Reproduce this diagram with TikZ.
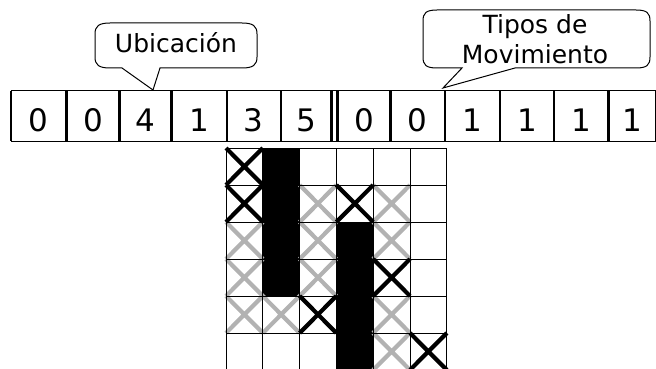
\documentclass[tikz,border=0pt]{standalone}
\usepackage{fontspec}
\setmainfont{DejaVu Sans}
\definecolor{xgray}{RGB}{178,178,178}
\tikzset{
  digit/.style={font=\fontsize{31}{36}\selectfont, anchor=base, inner sep=0pt},
  lbl/.style={font=\fontsize{25}{30}\selectfont, inner sep=0pt},
  sepline/.style={line width=2.6pt},
  frameline/.style={line width=1pt},
  bubble/.style={line width=1pt, fill=white},
  gridline/.style={line width=0.9pt},
  blackx/.style={line width=4.2pt, black},
  grayx/.style={line width=4.2pt, xgray},
}
\begin{document}
\begin{tikzpicture}[x=1pt,y=-1pt]
\useasboundingbox (0,0) rectangle (656,369);

% callouts
\draw[bubble] (122,68) -- (153,90) -- (160,68) -- (242,68)
  .. controls (253,68) and (257,65) .. (257,57) -- (257,34)
  .. controls (257,26) and (253,23) .. (242,23) -- (110,23)
  .. controls (99,23) and (95,26) .. (95,34) -- (95,57)
  .. controls (95,65) and (99,68) .. (110,68) -- cycle;
\node[lbl, anchor=base] (ubic) at (176,53) {Ubicación};

\draw[bubble] (462,68) -- (443,88) -- (515,68) -- (636,68)
  .. controls (647,68) and (650,65) .. (650,57) -- (650,21)
  .. controls (650,13) and (647,10) .. (636,10) -- (437,10)
  .. controls (426,10) and (423,13) .. (423,21) -- (423,57)
  .. controls (423,65) and (426,68) .. (437,68) -- cycle;
\node[lbl, align=center, anchor=north] (tipos) at (535,14) {Tipos de\\Movimiento};

% strip of digits
\draw[frameline] (11,90.5) -- (656,90.5);
\draw[frameline] (11,141) -- (656,141);
\draw[line width=1.5pt] (11,90.5) -- (11,141);
\draw[frameline] (655,90.5) -- (655,141);
\foreach \x in {66.5,119.5,171.5,227,281,331.5,337.5,390.5,445,500,554,608.5}
  \draw[sepline] (\x,90.5) -- (\x,141);

\node[digit] (d1) at (38.75,131) {0};
\node[digit] (d2) at (93,131) {0};
\node[digit] (d3) at (145.75,131) {4};
\node[digit] (d4) at (199.5,131) {1};
\node[digit] (d5) at (253.5,131) {3};
\node[digit] (d6) at (306,131) {5};
\node[digit] (d7) at (364,131) {0};
\node[digit] (d8) at (417.75,131) {0};
\node[digit] (d9) at (472.5,131) {1};
\node[digit] (d10) at (527,131) {1};
\node[digit] (d11) at (581,131) {1};
\node[digit] (d12) at (632.5,131) {1};

% grid
\fill[black] (262.8,148) rectangle (299.6,296);
\fill[black] (336.4,222) rectangle (373.2,370);
\foreach \c/\r in {2/1,4/1,0/2,2/2,4/2,0/3,2/3,0/4,1/4,4/4,4/5}
  \draw[grayx] ({226+36.8*\c},{148+37*\r}) -- ++(36.8,37)
               ({226+36.8*\c+36.8},{148+37*\r}) -- ++(-36.8,37);
\foreach \c/\r in {0/0,0/1,3/1,4/3,2/4,5/5}
  \draw[blackx] ({226+36.8*\c},{148+37*\r}) -- ++(36.8,37)
                ({226+36.8*\c+36.8},{148+37*\r}) -- ++(-36.8,37);
\foreach \i in {0,...,6}
  \draw[gridline] ({226+36.8*\i},148) -- ({226+36.8*\i},370);
\foreach \j in {0,...,5}
  \draw[gridline] (226,{148+37*\j}) -- (446.8,{148+37*\j});
\end{tikzpicture}
\end{document}
